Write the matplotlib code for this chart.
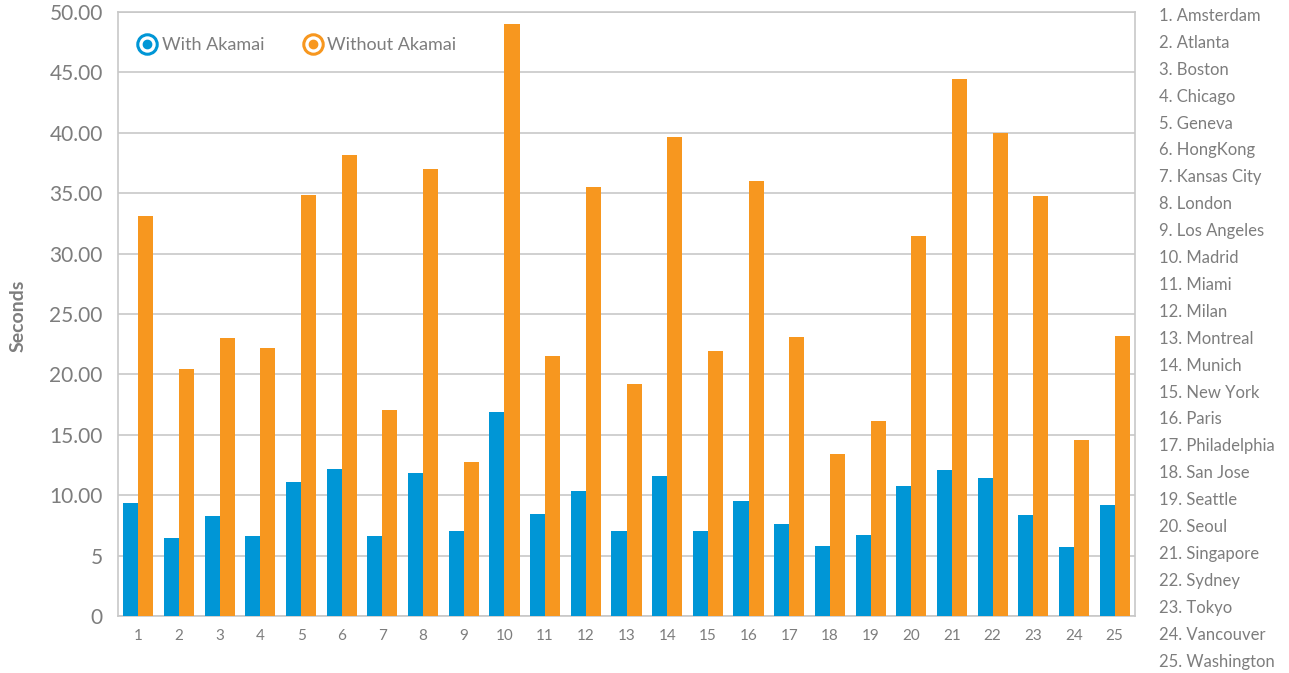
import numpy as np
import matplotlib.pyplot as plt
from matplotlib.lines import Line2D
from matplotlib.legend_handler import HandlerTuple

plt.rcParams['font.family'] = ['Lato', 'DejaVu Sans']

cities = ['Amsterdam', 'Atlanta', 'Boston', 'Chicago', 'Geneva', 'HongKong',
          'Kansas City', 'London', 'Los Angeles', 'Madrid', 'Miami', 'Milan',
          'Montreal', 'Munich', 'New York', 'Paris', 'Philadelphia', 'San Jose',
          'Seattle', 'Seoul', 'Singapore', 'Sydney', 'Tokyo', 'Vancouver',
          'Washington']
with_akamai = [9.34, 6.45, 8.26, 6.6, 11.07, 12.15, 6.6, 11.82, 7.0, 16.87,
               8.42, 10.32, 7.0, 11.57, 7.0, 9.5, 7.59, 5.76, 6.67, 10.74,
               12.07, 11.4, 8.33, 5.68, 9.16]
without_akamai = [33.1, 20.42, 23.0, 22.17, 34.85, 38.17, 17.03, 37.0, 12.73, 49.0,
                  21.5, 35.52, 19.19, 39.66, 21.92, 36.0, 23.08, 13.39, 16.13, 31.45,
                  44.47, 39.99, 34.77, 14.55, 23.16]
yticks = [0, 5, 10, 15, 20, 25, 30, 35, 40, 45, 50]
ylabels = ['0', '5', '10.00', '15.00', '20.00', '25.00', '30.00', '35.00',
           '40.00', '45.00', '50.00']

blue = '#0096d6'
orange = '#f7971f'
grey = '#7d7d7d'
gridc = '#c8c8c8'

W, H = 1289, 673
fig = plt.figure(figsize=(W / 100, H / 100), dpi=100)
ax = fig.add_axes([118 / W, (H - 616) / H, 1017 / W, 604 / H])

x = np.arange(len(cities))
bw = 0.37
ax.bar(x - bw / 2, with_akamai, bw, color=blue, zorder=3)
ax.bar(x + bw / 2, without_akamai, bw, color=orange, zorder=3)

ax.set_xlim(-0.5, len(cities) - 0.5)
ax.set_ylim(0, 50)
ax.set_yticks(yticks)
ax.set_yticklabels(ylabels)
ax.set_xticks(x)
ax.set_xticklabels([str(i + 1) for i in x])
ax.yaxis.grid(True, color=gridc, linewidth=1.2, zorder=0)
ax.tick_params(axis='y', length=0, labelsize=15, colors=grey, pad=11)
ax.tick_params(axis='x', length=0, labelsize=11, colors=grey, pad=9)
for s in ax.spines.values():
    s.set_color(gridc)
    s.set_linewidth(1.2)

fig.text(18 / W, 1 - 316 / H, 'Seconds', rotation=90, ha='center', va='center',
         fontsize=14, fontweight='bold', color=grey)

# legend: ring with a dot
def ring(c):
    outer = Line2D([], [], marker='o', linestyle='', markersize=14,
                   markerfacecolor='white', markeredgecolor=c, markeredgewidth=2.2)
    inner = Line2D([], [], marker='o', linestyle='', markersize=6,
                   markerfacecolor=c, markeredgecolor=c)
    return (outer, inner)

leg = ax.legend([ring(blue), ring(orange)], ['With Akamai', 'Without Akamai'],
                handler_map={tuple: HandlerTuple(ndivide=1, pad=0)},
                loc='upper left', bbox_to_anchor=(0.004, 0.985), ncol=2, frameon=False,
                fontsize=13, handlelength=1.0, handletextpad=0.3, columnspacing=2.2)
for t in leg.get_texts():
    t.set_color(grey)

for i, c in enumerate(cities):
    fig.text(1159 / W, 1 - (16 + i * 26.9) / H, '%d. %s' % (i + 1, c),
             ha='left', va='center', fontsize=12, color=grey)

fig.savefig('out.png', dpi=100, facecolor='white')
